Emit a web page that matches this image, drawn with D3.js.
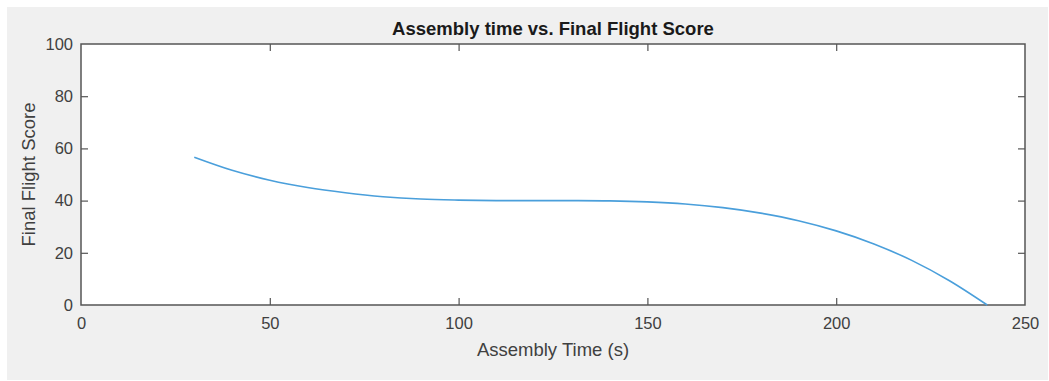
<!DOCTYPE html>
<html>
<head>
<meta charset="utf-8">
<script src="https://cdn.jsdelivr.net/npm/d3@7"></script>
<style>
  html, body { margin: 0; padding: 0; background: #ffffff; }
  svg { display: block; }
  text { font-family: "Liberation Sans", Arial, Helvetica, sans-serif; }
</style>
</head>
<body>
<svg id="chart" width="1049" height="381"></svg>
<script>
// ---- data ----
const assemblyTime = [30, 40, 50, 60, 70, 80, 90, 100, 110, 120, 130, 140, 150, 160, 170, 180, 190, 200, 210, 220, 230, 240];
const flightScore  = [56.6, 51.6, 47.8, 45.0, 43.0, 41.5, 40.6, 40.2, 40.0, 40.0, 40.0, 39.9, 39.5, 38.7, 37.3, 35.2, 32.3, 28.4, 23.4, 17.1, 9.3, 0];
const xTicks = [0, 50, 100, 150, 200, 250];
const yTicks = [0, 20, 40, 60, 80, 100];
const titleText = "Assembly time vs. Final Flight Score";
const xLabelText = "Assembly Time (s)";
const yLabelText = "Final Flight Score";

// ---- layout ----
const svg = d3.select("#chart");
const plot = { left: 81, right: 1025, top: 44, bottom: 305 };
const axisColor = "#555555";
const textColor = "#404040";
const tickLen = 7;

svg.append("rect").attr("x", 7).attr("y", 7).attr("width", 1041).attr("height", 373).attr("fill", "#f0f0f0");
svg.append("rect").attr("x", plot.left).attr("y", plot.top)
  .attr("width", plot.right - plot.left).attr("height", plot.bottom - plot.top).attr("fill", "#ffffff");

const x = d3.scaleLinear().domain([0, 250]).range([plot.left, plot.right]);
const y = d3.scaleLinear().domain([0, 100]).range([plot.bottom, plot.top]);

function styleAxis(g, showLabels) {
  g.select(".domain").remove();
  g.selectAll(".tick line").attr("stroke", axisColor).attr("stroke-width", 1.2);
  g.selectAll(".tick text").attr("fill", textColor).attr("font-size", "16.5px");
  if (!showLabels) g.selectAll(".tick text").remove();
}

// bottom
svg.append("g").attr("transform", `translate(0,${plot.bottom})`)
  .call(d3.axisBottom(x).tickValues(xTicks).tickSizeInner(-tickLen).tickSizeOuter(0).tickPadding(tickLen + 5))
  .call(g => styleAxis(g, true))
  .call(g => g.selectAll(".tick").filter(d => d === 0 || d === 250).select("line").remove());
// top
svg.append("g").attr("transform", `translate(0,${plot.top})`)
  .call(d3.axisTop(x).tickValues(xTicks).tickSizeInner(-tickLen).tickSizeOuter(0))
  .call(g => styleAxis(g, false))
  .call(g => g.selectAll(".tick").filter(d => d === 0 || d === 250).select("line").remove());
// left
svg.append("g").attr("transform", `translate(${plot.left},0)`)
  .call(d3.axisLeft(y).tickValues(yTicks).tickSizeInner(-tickLen).tickSizeOuter(0).tickPadding(tickLen + 1))
  .call(g => styleAxis(g, true))
  .call(g => g.selectAll(".tick").filter(d => d === 0 || d === 100).select("line").remove());
// right
svg.append("g").attr("transform", `translate(${plot.right},0)`)
  .call(d3.axisRight(y).tickValues(yTicks).tickSizeInner(-tickLen).tickSizeOuter(0))
  .call(g => styleAxis(g, false))
  .call(g => g.selectAll(".tick").filter(d => d === 0 || d === 100).select("line").remove());

// box
svg.append("rect").attr("x", plot.left).attr("y", plot.top)
  .attr("width", plot.right - plot.left).attr("height", plot.bottom - plot.top)
  .attr("fill", "none").attr("stroke", axisColor).attr("stroke-width", 1.5);

// line
const pts = assemblyTime.map((t, i) => [t, flightScore[i]]);
svg.append("path").datum(pts)
  .attr("fill", "none").attr("stroke", "#4a9fdb").attr("stroke-width", 1.6)
  .attr("d", d3.line().x(d => x(d[0])).y(d => y(d[1])).curve(d3.curveCatmullRom));

// title & labels
const cx = (plot.left + plot.right) / 2;
svg.append("text").attr("x", cx).attr("y", 35).attr("text-anchor", "middle")
  .attr("font-size", "18.5px").attr("font-weight", "bold").attr("fill", "#1a1a1a").text(titleText);
svg.append("text").attr("x", cx).attr("y", 356).attr("text-anchor", "middle")
  .attr("font-size", "18.5px").attr("fill", textColor).text(xLabelText);
svg.append("text").attr("transform", `translate(35,${(plot.top + plot.bottom) / 2}) rotate(-90)`)
  .attr("text-anchor", "middle").attr("font-size", "18.5px").attr("fill", textColor).text(yLabelText);
</script>
</body>
</html>
